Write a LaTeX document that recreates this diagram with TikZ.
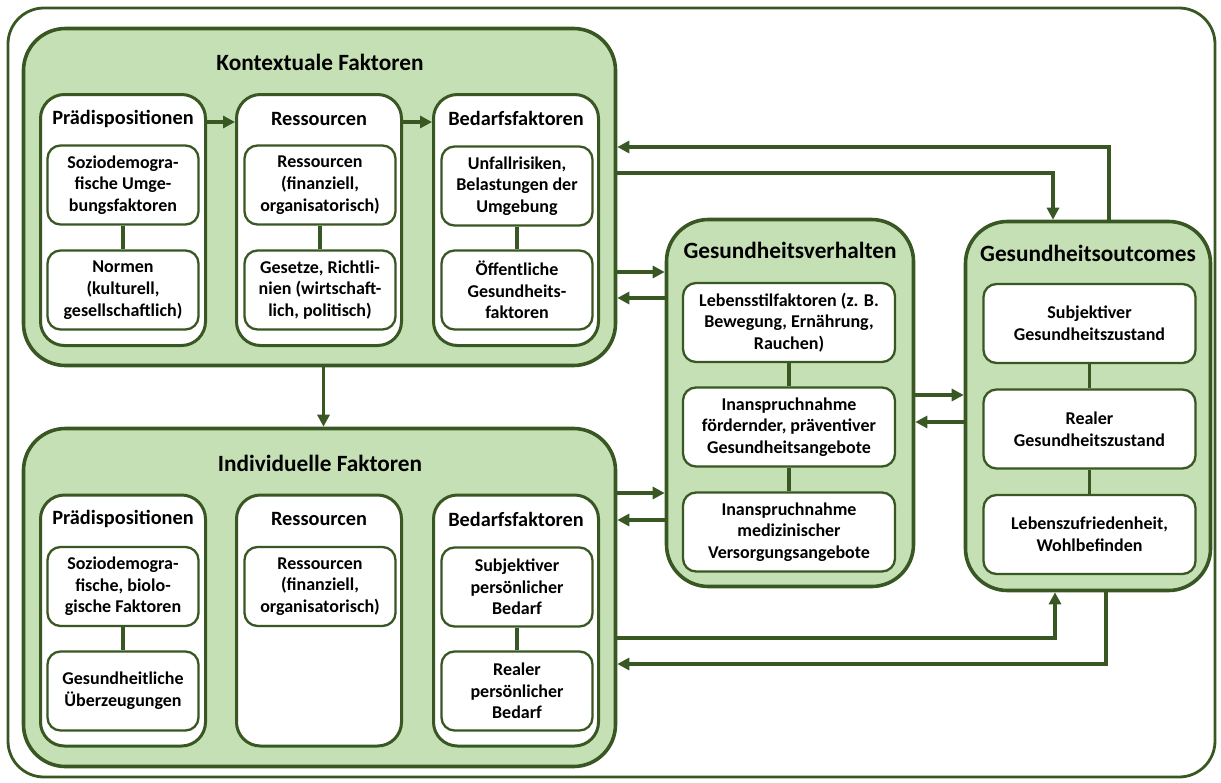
\documentclass[tikz,border=0pt]{standalone}
\usepackage{fontspec}
\setmainfont{Carlito}
\usetikzlibrary{arrows.meta,positioning}
\definecolor{gDark}{RGB}{56,87,35}
\definecolor{gLight}{RGB}{197,224,180}

\tikzset{
  kframe/.style={draw=gDark,line width=2.8pt,rounded corners=36pt},
  grp/.style={draw=gDark,fill=gLight,line width=3.6pt,rounded corners=42pt,inner sep=0pt},
  colbox/.style={draw=gDark,fill=white,line width=3pt,rounded corners=24pt,
    minimum width=165pt,minimum height=251pt,inner sep=0pt},
  itembox/.style={draw=gDark,fill=white,line width=2.3pt,rounded corners=13pt,align=center,
    inner sep=0pt,minimum width=151pt,minimum height=79pt,
    font=\fontsize{18}{21.7}\selectfont\bfseries},
  wideitem/.style={itembox,minimum width=212pt},
  headtxt/.style={font=\fontsize{20.3}{24}\selectfont\bfseries},
  ttltxt/.style={font=\fontsize{23.3}{27}\selectfont\bfseries},
  linkln/.style={draw=gDark,line width=3.2pt},
  arr/.style={-{Triangle[length=12pt,width=12pt]},draw=gDark,line width=3.4pt},
}

\begin{document}
\begin{tikzpicture}[x=1pt,y=-1pt]
  \useasboundingbox (0,0) rectangle (1221,782);
  \draw[kframe] (8,8) rectangle (1215,777);

  % Gruppen
  \node[grp,minimum width=592pt,minimum height=337pt] (K) at (319.5,197) {};
  \node[grp,minimum width=592pt,minimum height=338pt] (I) at (319.5,597.5) {};
  \node[grp,minimum width=247pt,minimum height=367pt] (V) at (790,403) {};
  \node[grp,minimum width=245pt,minimum height=369pt] (O) at (1088,406) {};
  \node[ttltxt] (Kt) at (320,62) {Kontextuale Faktoren};
  \node[ttltxt] (It) at (320,463) {Individuelle Faktoren};
  \node[ttltxt] (Vt) at (790,250) {Gesundheitsverhalten};
  \node[ttltxt] (Ot) at (1088,253) {Gesundheitsoutcomes};

  \foreach \c/\x/\t in {P/123/Prädispositionen,R/319/Ressourcen,B/516/Bedarfsfaktoren}{
    \node[colbox] (K\c) at (\x,220) {};
    \node[colbox] (I\c) at (\x,620.5) {};
    \node[headtxt] (K\c h) at ([yshift=-25.5pt]K\c.north) {\t};
    \node[headtxt] (I\c h) at ([yshift=-25.5pt]I\c.north) {\t};
  }

  % kontextuell
  \node[itembox] (KP1) at (123,185) {Soziodemogra-\\fische Umge-\\bungsfaktoren};
  \node[itembox] (KP2) at (123,290) {Normen\\(kulturell,\\gesellschaftlich)};
  \node[itembox] (KR1) at (320,185) {Ressourcen\\(finanziell,\\organisatorisch)};
  \node[itembox] (KR2) at (320,290) {Gesetze, Richtli-\\nien (wirtschaft-\\lich, politisch)};
  \node[itembox] (KB1) at (517,186) {Unfallrisiken,\\Belastungen der\\Umgebung};
  \node[itembox] (KB2) at (517,290) {Öffentliche\\Gesundheits-\\faktoren};
  % individuell
  \node[itembox] (IP1) at (123,586.5) {Soziodemogra-\\fische, biolo-\\gische Faktoren};
  \node[itembox] (IP2) at (123,691) {Gesundheitliche\\Überzeugungen};
  \node[itembox] (IR1) at (320,586.5) {Ressourcen\\(finanziell,\\organisatorisch)};
  \node[itembox] (IB1) at (517,587) {Subjektiver\\persönlicher\\Bedarf};
  \node[itembox] (IB2) at (517,691) {Realer\\persönlicher\\Bedarf};
  % Verhalten, Outcomes
  \node[wideitem] (V1) at (789,322.5) {Lebensstilfaktoren (z. B.\\Bewegung, Ernährung,\\Rauchen)};
  \node[wideitem] (V2) at (789,427) {Inanspruchnahme\\fördernder, präventiver\\Gesundheitsangebote};
  \node[wideitem] (V3) at (789,532) {Inanspruchnahme\\medizinischer\\Versorgungsangebote};
  \node[wideitem] (O1) at (1089.5,323.5) {Subjektiver\\Gesundheitszustand};
  \node[wideitem] (O2) at (1089.5,429) {Realer\\Gesundheitszustand};
  \node[wideitem] (O3) at (1089.5,534.5) {Lebenszufriedenheit,\\Wohlbefinden};

  \foreach \a/\b in {KP1/KP2,KR1/KR2,KB1/KB2,IP1/IP2,IB1/IB2,V1/V2,V2/V3,O1/O2,O2/O3}
    \draw[linkln] (\a) -- (\b);

  % Pfeile
  \draw[arr] ([yshift=-3.5pt]KP.east |- KPh) -- ([yshift=-3.5pt]KR.west |- KPh);
  \draw[arr] ([yshift=-3.5pt]KR.east |- KRh) -- ([yshift=-3.5pt]KB.west |- KRh);
  \draw[arr] ([xshift=4pt]K.south) -- ([xshift=4pt]I.north);
  \draw[arr] ([yshift=-75pt]K.east) -- ([yshift=131pt]V.west);
  \draw[arr] ([yshift=105pt]V.west) -- ([yshift=-101pt]K.east);
  \draw[arr] ([yshift=104.5pt]I.east) -- ([yshift=-90pt]V.west);
  \draw[arr] ([yshift=-117pt]V.west) -- ([yshift=77.5pt]I.east);
  \draw[arr] ([yshift=8pt]V.east) -- ([yshift=11pt]O.west);
  \draw[arr] ([yshift=-16pt]O.west) -- ([yshift=-19pt]V.east);
  \draw[arr] ([xshift=21pt]O.north) |- ([yshift=50pt]K.east);
  \draw[arr] ([yshift=24pt]K.east) -| ([xshift=-35pt]O.north);
  \draw[arr] ([yshift=-40.5pt]I.east) -| ([xshift=-33pt]O.south);
  \draw[arr] ([xshift=18pt]O.south) |- ([yshift=-66.5pt]I.east);
\end{tikzpicture}
\end{document}
